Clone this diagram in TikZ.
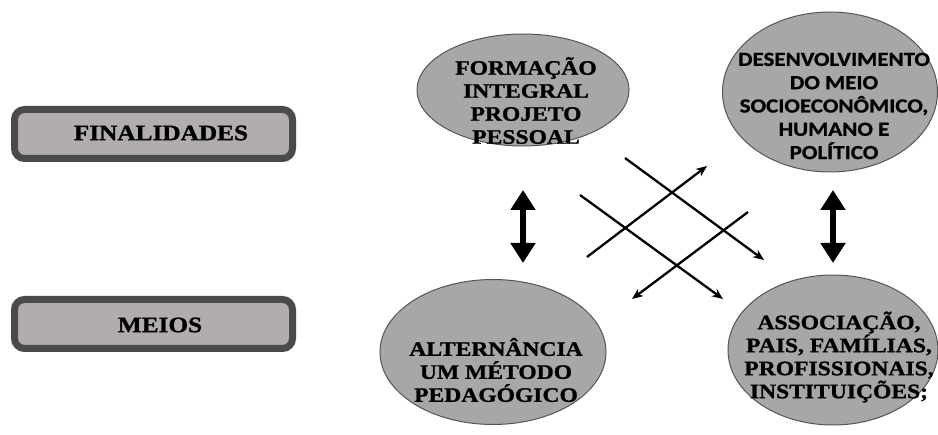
\documentclass[tikz,border=0pt]{standalone}
\usepackage{fontspec}
\usetikzlibrary{shapes.geometric,arrows.meta}
\newfontfamily\tnrfam{Liberation Serif}[FakeStretch=1.15,FakeBold=1.2]
\newfontfamily\carlfam{Carlito}[FakeStretch=1.15,FakeBold=1.0]
\definecolor{boxfill}{HTML}{B1ADAD}
\definecolor{boxline}{HTML}{4A4A4A}
\definecolor{ellfill}{HTML}{A9A6A6}
\definecolor{ellline}{HTML}{555555}
\tikzset{
  labelbox/.style={draw=boxline, line width=7pt, fill=boxfill, rounded corners=10pt,
    minimum width=278pt, minimum height=49pt, inner sep=0pt},
  oval/.style={ellipse, draw=ellline, line width=1pt, fill=ellfill, inner sep=0pt},
  serift/.style={font=\tnrfam\bfseries\fontsize{20.5}{23}\selectfont, align=center, inner sep=0pt},
  sanst/.style={font=\carlfam\bfseries\fontsize{20}{23.3}\selectfont, align=center, inner sep=0pt},
  boxt/.style={font=\tnrfam\bfseries\fontsize{22}{26}\selectfont, inner sep=0pt},
  dbl/.style={line width=6pt, {Triangle[width=24pt,length=20pt]}-{Triangle[width=24pt,length=20pt]}},
  cross/.style={line width=2.3pt, -{Stealth[length=11pt,width=9pt]}}
}
\begin{document}
\begin{tikzpicture}[x=1pt,y=-1pt]
\useasboundingbox (0,0) rectangle (938,435);
% label boxes
\node[labelbox] (fin) at (153.5,134) {};
\node[boxt] (fint) at (161,133) {FINALIDADES};
\node[labelbox] (mei) at (153.5,324) {};
\node[boxt] (meit) at (160,325) {MEIOS};
% ellipses
\node[oval, minimum width=212pt, minimum height=112pt] (e1) at (523,90) {};
\node[oval, minimum width=215pt, minimum height=160pt] (e2) at (830,92) {};
\node[oval, minimum width=226pt, minimum height=145pt] (e3) at (493,352) {};
\node[oval, minimum width=210pt, minimum height=150pt] (e4) at (833,350) {};
\node[serift] (t1) at (526,100.5) {FORMAÇÃO\\INTEGRAL\\PROJETO\\PESSOAL};
\node[sanst] (t2) at (834,106) {DESENVOLVIMENTO\\DO MEIO\\SOCIOECONÔMICO,\\HUMANO E\\POLÍTICO};
\node[serift] (t3) at (496,370) {ALTERNÂNCIA\\UM MÉTODO\\PEDAGÓGICO};
\node[serift] (t4) at (839,357) {ASSOCIAÇÃO,\\PAIS, FAMÍLIAS,\\PROFISSIONAIS,\\INSTITUIÇÕES;};
% vertical double arrows
\coordinate (l1) at (523,190); \coordinate (l2) at (523,263);
\coordinate (r1) at (833,190); \coordinate (r2) at (833,263);
\draw[dbl] (l1) -- (l2);
\draw[dbl] (r1) -- (r2);
% crossing arrows
\coordinate (a1) at (625,158); \coordinate (a2) at (764,260);
\coordinate (b1) at (580,195); \coordinate (b2) at (723,299);
\coordinate (c1) at (587,257); \coordinate (c2) at (707,166);
\coordinate (d1) at (748,212); \coordinate (d2) at (632,299);
\draw[cross] (a1) -- (a2);
\draw[cross] (b1) -- (b2);
\draw[cross] (c1) -- (c2);
\draw[cross] (d1) -- (d2);
\end{tikzpicture}
\end{document}
